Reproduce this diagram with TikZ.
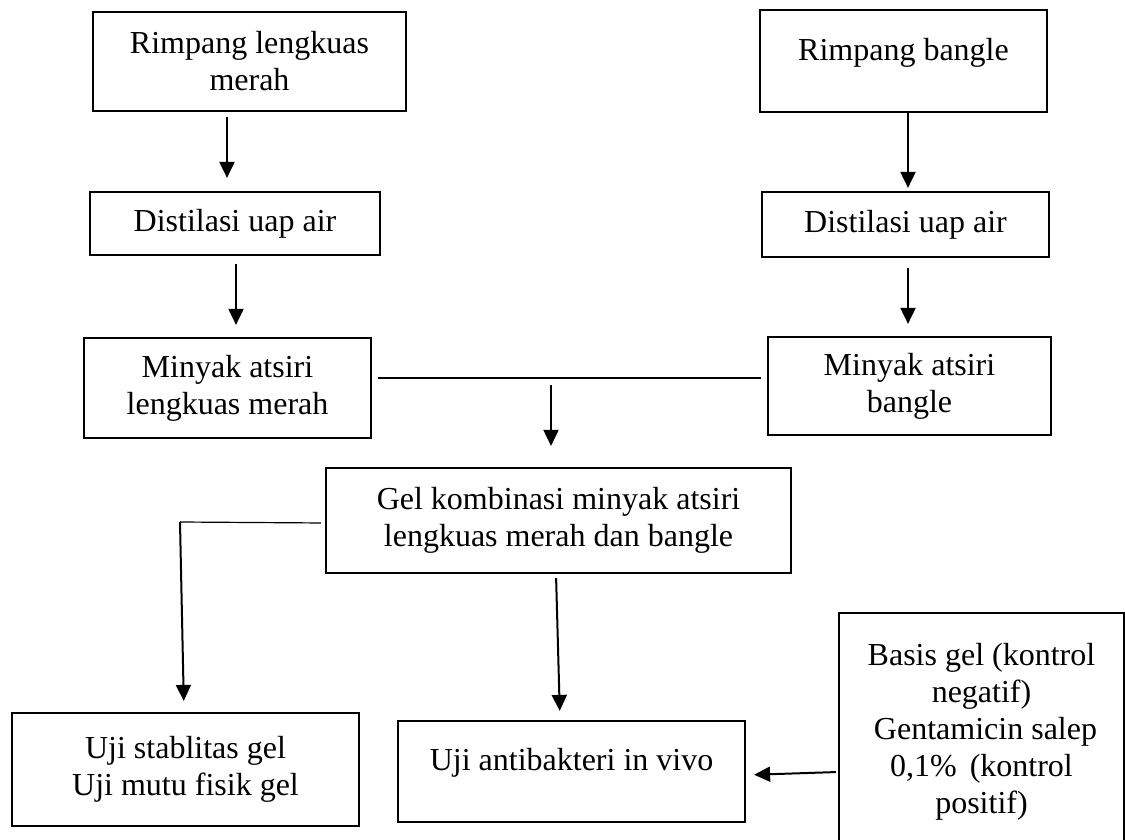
\documentclass[tikz,border=0pt]{standalone}
\usepackage{fontspec}
\setmainfont{Liberation Serif}
\usetikzlibrary{arrows.meta}
\begin{document}
\begin{tikzpicture}[x=1pt,y=-1pt,
  box/.style={draw, line width=2.2pt, inner sep=0pt, align=center, font=\fontsize{32}{37}\selectfont},
  txt/.style={inner sep=0pt, align=center, font=\fontsize{32}{37}\selectfont},
  arr/.style={line width=2pt, -{Triangle[length=16pt,width=15pt]}},
  thinline/.style={line width=1.2pt}]
\useasboundingbox (0,0) rectangle (1125,840);
\node[box, minimum width=313pt, minimum height=99pt] (b1) at (249.5,61.5) {Rimpang lengkuas\\merah};
\node[box, minimum width=287pt, minimum height=102pt, label={[txt,name=b2t,yshift=8pt]center:Rimpang bangle}] (b2) at (903.5,61) {};
\node[box, minimum width=290pt, minimum height=63pt] (b3) at (235,223.5) {Distilasi uap air};
\node[box, minimum width=287pt, minimum height=65pt] (b4) at (905.5,224.5) {Distilasi uap air};
\node[box, minimum width=287pt, minimum height=100pt] (b5) at (227.5,388) {Minyak atsiri\\lengkuas merah};
\node[box, minimum width=283pt, minimum height=98pt] (b6) at (909.5,386) {Minyak atsiri\\bangle};
\node[box, minimum width=465pt, minimum height=105pt] (gel) at (558.5,520.5) {Gel kombinasi minyak atsiri\\lengkuas merah dan bangle};
\node[box, minimum width=347pt, minimum height=113pt] (b8) at (185.5,769.5) {Uji stablitas gel\\Uji mutu fisik gel};
\node[box, minimum width=347pt, minimum height=101pt, label={[txt,name=b9t,yshift=9pt]center:Uji antibakteri in vivo}] (b9) at (571.5,771.5) {};
\node[box, minimum width=285pt, minimum height=238pt] (b10) at (981.5,732) {Basis gel (kontrol\\negatif)\\\hspace*{8pt}Gentamicin salep\\0,1\%\hspace{13pt}(kontrol\\positif)};
\coordinate (m) at (551,385);
\coordinate (c8) at (180,522);
% arrows
\draw[arr, shorten <=5pt, shorten >=13pt] ([xshift=-22.5pt]b1.south) -- ([xshift=-8pt]b3.north);
\draw[arr, shorten <=8pt, shorten >=12pt] ([xshift=1pt]b3.south) -- ([xshift=8.5pt]b5.north);
\draw[arr, shorten >=3pt] ([xshift=4.5pt]b2.south) -- ([xshift=2.5pt]b4.north);
\draw[arr, shorten <=10pt, shorten >=12pt] ([xshift=2.5pt]b4.south) -- ([xshift=-1.5pt]b6.north);
\draw[thinline, shorten <=6pt, shorten >=6pt] ([yshift=10pt]b5.east) -- ([yshift=8pt]b6.west);
\draw[arr, shorten >=21pt] (m) -- ([xshift=-7.5pt]gel.north);
\draw[thinline, shorten <=4pt] ([yshift=-2.5pt]gel.west) -- (c8);
\draw[arr, shorten >=11pt] (c8) -- ([xshift=-1.5pt]b8.north);
\draw[arr, shorten <=4pt, shorten >=9pt] ([xshift=-2.5pt]gel.south) -- ([xshift=-11.5pt]b9.north);
\draw[arr, shorten <=2pt, shorten >=8pt] ([yshift=-40pt]b10.west) -- ([yshift=-3.5pt]b9.east);
\end{tikzpicture}
\end{document}
